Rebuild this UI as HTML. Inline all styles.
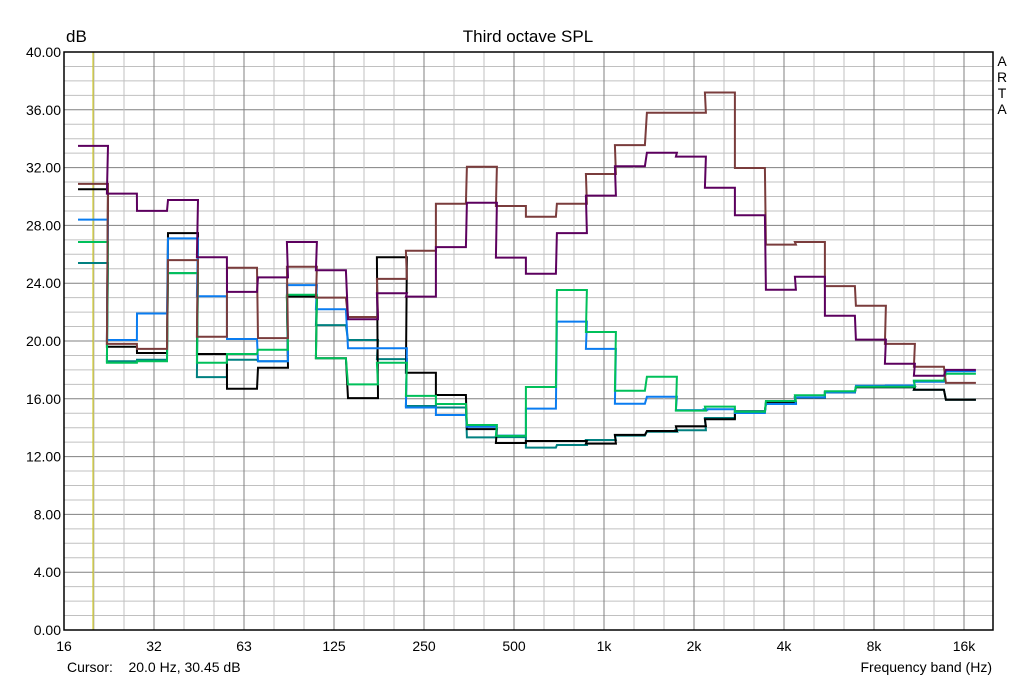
<!DOCTYPE html>
<html><head><meta charset="utf-8"><style>
html,body{margin:0;padding:0;background:#fff;}
svg{display:block;font-family:"Liberation Sans",Arial,sans-serif;}
</style></head><body>
<svg id="chart" width="1024" height="680" viewBox="0 0 1024 680" xmlns="http://www.w3.org/2000/svg">
<rect width="1024" height="680" fill="#fff"/>
<g id="grid"></g>
<line x1="93" y1="52" x2="93" y2="630" stroke="#c8c000" stroke-width="1"/>
<g id="series"></g>
<rect x="64" y="52" width="929" height="578" fill="none" stroke="#000" stroke-width="1.5"/>
<g id="yticks" font-size="14" text-anchor="end" fill="#000"></g>
<g id="xticks" font-size="14" text-anchor="middle" fill="#000"></g>
<text x="66" y="42" font-size="17">dB</text>
<text x="528" y="42" font-size="17" text-anchor="middle">Third octave SPL</text>
<g font-size="14" text-anchor="middle">
<text x="1002" y="66">A</text><text x="1002" y="82">R</text><text x="1002" y="98">T</text><text x="1002" y="114">A</text>
</g>
<text x="67" y="672" font-size="14">Cursor:&#160;&#160;&#160; 20.0 Hz, 30.45 dB</text>
<text x="992" y="672" font-size="14" text-anchor="end">Frequency band (Hz)</text>
</svg>
<script>
const bands = [20,25,31.5,40,50,63,80,100,125,160,200,250,315,400,500,630,800,1000,1250,1600,2000,2500,3150,4000,5000,6300,8000,10000,12500,16000];
const yTickLabels = ["0.00","4.00","8.00","12.00","16.00","20.00","24.00","28.00","32.00","36.00","40.00"];
const yTickValues = [0,4,8,12,16,20,24,28,32,36,40];
const xTickLabels = ["16","32","63","125","250","500","1k","2k","4k","8k","16k"];
const xTickValues = [16,32,64,128,256,512,1024,2048,4096,8192,16384];
const seriesNames = ["teal","black","blue","green","brown","purple"];
const seriesColors = ["#008080","#000000","#0a7cf0","#00c05a","#7a3c3c","#5c005e"];
const teal   = [25.4,18.6,18.7,24.7,17.5,18.7,18.6,23.1,21.1,20.07,18.75,15.5,15.4,13.33,13.35,12.62,12.8,13.15,13.45,13.72,13.82,14.67,15.15,15.7,16.08,16.44,16.8,16.8,16.63,15.94];
const black  = [30.5,19.6,19.17,27.47,19.1,16.7,18.15,23.07,18.8,16.05,25.8,17.8,16.26,13.9,12.94,13.08,13.08,12.9,13.5,13.77,14.1,14.58,15.1,15.7,16.08,16.44,16.8,16.8,16.63,15.94];
const blue   = [28.4,20.07,21.9,27.1,23.1,20.14,18.6,23.87,22.2,19.5,19.5,15.4,14.88,14.07,13.45,15.32,21.34,19.45,15.66,16.14,15.22,15.27,15.02,15.64,16.1,16.44,16.9,16.92,17.18,17.9];
const green  = [26.85,18.5,18.6,24.7,18.5,19.1,19.4,23.2,18.8,17.0,18.5,16.2,15.64,14.19,13.43,16.82,23.53,20.62,16.56,17.53,15.18,15.46,15.1,15.85,16.24,16.52,16.84,16.84,17.26,17.74];
const brown  = [30.87,19.8,19.45,25.6,20.3,25.07,20.2,25.14,23.0,21.66,24.3,26.25,29.5,32.06,29.34,28.6,29.5,31.56,33.56,35.8,35.8,37.2,31.97,26.67,26.85,23.8,22.44,19.8,18.22,17.1];
const purple = [33.5,30.2,29.0,29.76,25.8,23.4,24.4,26.85,24.9,21.5,23.3,23.07,26.5,29.57,25.77,24.66,27.47,30.06,32.1,33.03,32.76,30.6,28.7,23.55,24.45,21.75,20.1,18.43,17.6,18.0];
const seriesData = [teal,black,blue,green,brown,purple];

const NS="http://www.w3.org/2000/svg";
const X0=64, X1=993, Y0=630, Y1=52, YMAX=40, PXOCT=90;
function xScale(f){return X0+PXOCT*Math.log2(f/16);}
function yScale(v){return Y0-(Y0-Y1)*v/YMAX;}

const grid=document.getElementById('grid');
for(let d=1; d<YMAX; d++){
  const l=document.createElementNS(NS,'line');
  const y=yScale(d);
  l.setAttribute('x1',X0);l.setAttribute('x2',X1);l.setAttribute('y1',y);l.setAttribute('y2',y);
  l.setAttribute('stroke', d%4===0?'#808080':'#c0c0c0');l.setAttribute('stroke-width','1');
  
  
  grid.appendChild(l);
}
for(let k=1; k<31; k++){
  const x=X0+PXOCT*k/3;
  if(x>=X1) break;
  const l=document.createElementNS(NS,'line');
  l.setAttribute('x1',x);l.setAttribute('x2',x);l.setAttribute('y1',Y1);l.setAttribute('y2',Y0);
  l.setAttribute('stroke', k%3===0?'#808080':'#c0c0c0');l.setAttribute('stroke-width','1');
  
  
  grid.appendChild(l);
}
const yt=document.getElementById('yticks');
yTickValues.forEach((v,i)=>{
  const t=document.createElementNS(NS,'text');
  t.setAttribute('x',61);t.setAttribute('y',yScale(v)+5);
  t.textContent=yTickLabels[i];
  
  
  yt.appendChild(t);
});
const xt=document.getElementById('xticks');
xTickValues.forEach((v,i)=>{
  const t=document.createElementNS(NS,'text');
  t.setAttribute('x',xScale(v));t.setAttribute('y',651);
  t.textContent=xTickLabels[i];
  
  
  xt.appendChild(t);
});
const sg=document.getElementById('series');
seriesData.forEach((vals,si)=>{
  let d='';
  vals.forEach((v,i)=>{
    const xa=xScale(bands[i]*Math.pow(2,-1/6)), xb=xScale(bands[i]*Math.pow(2,1/6));
    const y=yScale(v);
    d += (i===0?'M':'L')+xa.toFixed(1)+','+y.toFixed(1)+' L'+xb.toFixed(1)+','+y.toFixed(1)+' ';
  });
  const p=document.createElementNS(NS,'path');
  p.setAttribute('d',d);p.setAttribute('fill','none');
  p.setAttribute('stroke',seriesColors[si]);p.setAttribute('stroke-width','2');
  
  
  sg.appendChild(p);
});
</script>
</body></html>
